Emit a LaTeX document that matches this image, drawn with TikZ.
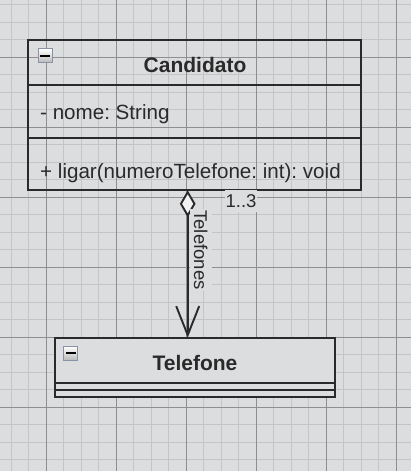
\documentclass[tikz,border=0pt]{standalone}
\usepackage{fontspec}
\setmainfont{Liberation Sans}
\usetikzlibrary{arrows.meta}
\definecolor{canvas}{HTML}{DCDDDF}
\definecolor{gridminor}{HTML}{C4C5C7}
\definecolor{gridmajor}{HTML}{8E8F91}
\definecolor{ink}{HTML}{2A2A2A}
\definecolor{iconrim}{HTML}{8A93A6}
\frenchspacing
\begin{document}
\begin{tikzpicture}[x=1pt,y=-1pt]
	\tikzset{
		umlbox/.style={draw=ink, line width=1.9pt, inner sep=0pt, outer sep=0pt, anchor=north west},
		classname/.style={font=\fontsize{21}{25}\selectfont\bfseries, text=ink, inner sep=0pt, text height=15pt, text depth=0pt},
		member/.style={font=\fontsize{20.6}{25}\selectfont, text=ink, inner sep=0pt, anchor=west, text height=15pt, text depth=0pt},
		edgelabel/.style={font=\fontsize{18.5}{22}\selectfont, text=ink, fill=canvas, inner xsep=1pt, inner ysep=4.5pt, text height=13.2pt, text depth=0pt},
		icon/.style={draw=iconrim, line width=1pt, top color=white, bottom color=gray!55, minimum size=14pt, inner sep=0pt},
	}
	\fill[canvas] (0,0) rectangle (411,471);
	\useasboundingbox (0,0) rectangle (411,471);
	
	% Background grid, fine lines first and the darker ones on top.
	\foreach \k in {0,...,22} \draw[gridminor, line width=0.9pt] ({11.3+17.5*\k},0) -- ({11.3+17.5*\k},471);
	\foreach \k in {0,...,26} \draw[gridminor, line width=0.9pt] (0,{4.8+17.5*\k}) -- (411,{4.8+17.5*\k});
	\foreach \k in {0,...,5} \draw[gridmajor, line width=1pt] ({46.3+70*\k},0) -- ({46.3+70*\k},471);
	\foreach \k in {0,...,5} \draw[gridmajor, line width=1pt] (0,{57.3+70*\k}) -- (411,{57.3+70*\k});
	
	% Class Candidato (no fill, the grid shows through).
	\node[umlbox, minimum width=333pt, minimum height=150.3pt] (cand) at (28.3,40) {};
	\draw[ink, line width=1.9pt] (28.3,85.3) -- (361.3,85.3);
	\draw[ink, line width=1.9pt] (28.3,138) -- (361.3,138);
	\node[icon] (candicon) at (45,55.8) {};
	\draw[black, line width=2.4pt] ([xshift=-4.7pt]candicon.center) -- ([xshift=4.7pt]candicon.center);
	\node[classname] (candname) at (195,65) {Candidato};
	\node[member] (nome) at (40,111.7) {- nome: String};
	\node[member] (ligar) at (40,170.8) {+ ligar(numeroTelefone: int): void};
	
	% Class Telefone (filled, hides the grid).
	\node[umlbox, fill=canvas, minimum width=280pt, minimum height=59pt] (tel) at (55,337.7) {};
	\draw[ink, line width=1.9pt] (55,382.7) -- (335,382.7);
	\draw[ink, line width=1.9pt] (55,390) -- (335,390);
	\node[icon] (telicon) at (70.8,353.2) {};
	\draw[black, line width=2.4pt] ([xshift=-4.7pt]telicon.center) -- ([xshift=4.7pt]telicon.center);
	\node[classname] (telname) at (195,362.8) {Telefone};
	
	% Aggregation from Candidato down to Telefone.
	\coordinate (lane) at (187.7,0);
	\draw[ink, line width=1.9pt, {Diamond[fill=black!5, length=27pt, width=15.7pt]}-{Straight Barb[length=29pt, width=23pt]}] (cand.south -| lane) -- (tel.north -| lane);
	\node[edgelabel, rotate=-90] (rolename) at (200.8,250) {Telefones};
	\node[edgelabel] (mult) at (241,201) {1..3};
\end{tikzpicture}
\end{document}
